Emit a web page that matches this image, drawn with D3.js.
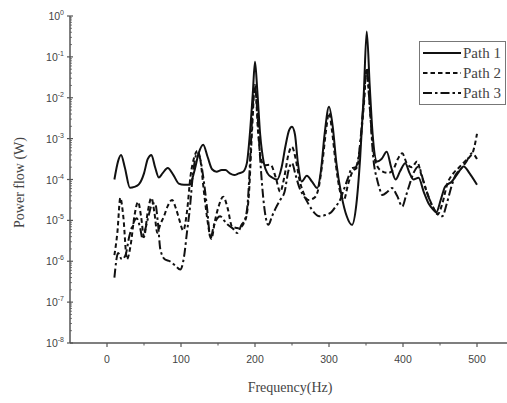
<!DOCTYPE html>
<html>
<head>
<meta charset="utf-8">
<script src="https://d3js.org/d3.v7.min.js"></script>
<style>
  body { margin: 0; background: #fff; }
  svg { display: block; }
</style>
</head>
<body>
<div id="chart-container"></div>
<script>
// - - Data (power flow read as log10(W)) - -
const path1Freq = [10, 15, 19, 24, 31, 37, 43, 50, 55, 60, 65, 70, 75, 82, 90, 97, 104, 112, 118, 124, 130, 136, 142, 148, 155, 160, 166, 172, 178, 184, 189, 193, 197, 200, 203, 207, 212, 217, 223, 230, 236, 241, 246, 250, 254, 258, 263, 270, 277, 284, 289, 294, 300, 305, 310, 317, 324, 331, 337, 342, 347, 351, 355, 359, 365, 371, 378, 384, 390, 396, 403, 409, 414, 421, 428, 435, 441, 445, 451, 457, 466, 474, 482, 490, 500];
const path1Log = [-4.0, -3.55, -3.4, -3.7, -4.2, -4.18, -4.12, -3.85, -3.5, -3.4, -3.7, -3.95, -3.85, -3.72, -3.9, -4.1, -4.13, -4.13, -3.8, -3.35, -3.15, -3.45, -3.75, -3.81, -3.77, -3.77, -3.85, -3.89, -3.85, -3.81, -3.6, -2.9, -1.9, -1.12, -1.8, -2.9, -3.6, -3.85, -3.95, -4.0, -3.7, -3.2, -2.8, -2.71, -2.9, -3.6, -4.05, -3.91, -4.05, -4.21, -3.8, -2.9, -2.22, -2.7, -3.6, -4.4, -4.9, -5.11, -4.6, -3.5, -1.9, -0.38, -1.7, -2.9, -3.56, -3.5, -3.32, -3.7, -4.0, -3.8, -3.6, -3.85, -4.0, -3.96, -4.3, -4.6, -4.74, -4.8, -4.5, -4.17, -4.05, -3.85, -3.68, -3.85, -4.13];

const path2Freq = [10, 14, 18, 22, 27, 32, 37, 42, 46, 50, 55, 60, 64, 68, 72, 77, 82, 88, 93, 98, 103, 108, 113, 118, 122, 126, 131, 135, 141, 146, 151, 157, 163, 169, 178, 187, 192, 196, 200, 204, 208, 213, 221, 228, 234, 240, 245, 250, 255, 260, 265, 272, 280, 286, 291, 296, 300, 304, 309, 315, 320, 326, 332, 338, 343, 347, 351, 355, 360, 366, 372, 380, 387, 393, 399, 405, 412, 419, 425, 432, 440, 447, 453, 460, 468, 476, 484, 490, 495, 500];
const path2Log = [-5.85, -5.3, -4.45, -4.9, -5.95, -5.6, -4.9, -4.55, -4.9, -5.4, -4.8, -4.45, -4.8, -5.3, -5.1, -4.9, -4.65, -4.5, -4.7, -5.0, -5.25, -4.8, -3.9, -3.45, -3.3, -3.5, -4.3, -4.9, -5.45, -5.0, -4.65, -4.42, -4.7, -5.15, -5.19, -4.99, -4.3, -2.8, -1.69, -2.8, -3.5, -3.65, -3.64, -3.95, -4.3, -3.9, -3.4, -3.2, -3.5, -4.0, -4.3, -4.5, -4.45, -4.2, -3.6, -2.8, -2.37, -2.8, -3.6, -4.3, -4.5, -4.1, -3.8, -3.7, -3.0, -2.2, -1.28, -2.2, -3.3, -3.7, -3.8, -3.84, -3.75, -3.5, -3.36, -3.6, -3.7, -3.56, -3.9, -4.3, -4.65, -4.85, -4.6, -4.1, -3.85, -3.7, -3.55, -3.45, -3.3, -2.88];

const path3Freq = [10, 15, 20, 25, 30, 35, 40, 45, 48, 52, 56, 61, 65, 69, 72, 78, 85, 92, 99, 104, 108, 112, 116, 122, 126, 130, 135, 140, 144, 149, 153, 158, 163, 170, 176, 182, 186, 190, 194, 197, 200, 203, 207, 212, 218, 223, 228, 234, 240, 245, 250, 255, 260, 268, 277, 287, 295, 303, 309, 315, 320, 326, 331, 336, 341, 346, 351, 355, 360, 365, 368, 372, 379, 385, 392, 399, 404, 408, 414, 421, 427, 434, 441, 447, 453, 459, 465, 471, 478, 486, 493, 498, 500];
const path3Log = [-6.4, -5.8, -5.95, -5.85, -5.4, -5.1, -4.95, -5.2, -5.45, -5.2, -4.9, -4.6, -4.58, -5.1, -5.7, -5.95, -6.0, -6.1, -6.2, -5.9, -5.3, -4.7, -3.9, -3.35, -3.5, -3.93, -4.66, -5.44, -5.15, -4.95, -4.9, -5.0, -5.1, -5.2, -5.31, -5.1, -5.0, -4.6, -3.3, -2.2, -1.76, -2.3, -3.5, -4.6, -5.11, -4.9, -4.7, -4.5, -4.3, -3.8, -3.6, -3.9, -4.2, -4.46, -4.74, -4.9, -4.87, -4.8, -4.66, -4.5, -4.25, -3.95, -3.72, -3.7, -3.3, -2.3, -1.32, -2.2, -3.5, -4.0, -4.2, -4.38, -4.3, -4.21, -4.4, -4.66, -4.4, -4.17, -3.85, -3.68, -4.0, -4.4, -4.7, -4.85, -4.9, -4.6, -4.2, -3.89, -3.75, -3.55, -3.36, -3.44, -3.5];

const seriesNames = ["Path 1", "Path 2", "Path 3"];
const xTicksMajor = [0, 100, 200, 300, 400, 500];
const xTicksMinor = [50, 150, 250, 350, 450];
const yDecades = [0, -1, -2, -3, -4, -5, -6, -7, -8];

// - - Chart Sizing - -
const W = 507, H = 403;
const plotLeft = 70, plotTop = 16, plotBottom = 343;

const x = d3.scaleLinear().domain([-50, 550]).range([plotLeft, plotLeft + 600 * 0.74]);
const y = d3.scaleLog().domain([1e-8, 1]).range([plotBottom, plotTop]);

const dashes = [null, "4.5,3", "9,3,2.5,3"];

const svg = d3.select("#chart-container")
    .append("svg")
        .attr("width", W)
        .attr("height", H);

// - - Axes - -
const axisColor = "#555";
const textColor = "#444";

// y axis
svg.append("line")
    .attr("x1", plotLeft).attr("x2", plotLeft)
    .attr("y1", y(1)).attr("y2", y(1e-8))
    .attr("stroke", axisColor).attr("stroke-width", 1.5);

yDecades.forEach(e => {
    const yy = y(Math.pow(10, e));
    svg.append("line")
        .attr("x1", plotLeft - 3).attr("x2", plotLeft + 3)
        .attr("y1", yy).attr("y2", yy)
        .attr("stroke", axisColor).attr("stroke-width", 1.2);
    if (e > -8) {
        for (let m = 2; m <= 9; m++) {
            const ym = y(m * Math.pow(10, e - 1));
            svg.append("line")
                .attr("x1", plotLeft).attr("x2", plotLeft + 2)
                .attr("y1", ym).attr("y2", ym)
                .attr("stroke", axisColor).attr("stroke-width", 0.8);
        }
    }
    const t = svg.append("text")
        .attr("x", plotLeft - 6)
        .attr("y", yy + 4)
        .attr("text-anchor", "end")
        .attr("fill", textColor)
        .attr("font-family", "Liberation Sans, Arial, sans-serif")
        .attr("font-size", 10.5);
    t.append("tspan").text("10");
    t.append("tspan")
        .attr("dy", -5)
        .attr("font-size", 7)
        .text(e);
});

// x axis
svg.append("line")
    .attr("x1", plotLeft).attr("x2", W)
    .attr("y1", plotBottom).attr("y2", plotBottom)
    .attr("stroke", axisColor).attr("stroke-width", 1.5);

xTicksMajor.forEach(v => {
    svg.append("line")
        .attr("x1", x(v)).attr("x2", x(v))
        .attr("y1", plotBottom).attr("y2", plotBottom + 4)
        .attr("stroke", axisColor).attr("stroke-width", 1.2);
    svg.append("text")
        .attr("x", x(v))
        .attr("y", plotBottom + 20)
        .attr("text-anchor", "middle")
        .attr("fill", textColor)
        .attr("font-family", "Liberation Sans, Arial, sans-serif")
        .attr("font-size", 10.5)
        .text(v);
});
xTicksMinor.forEach(v => {
    svg.append("line")
        .attr("x1", x(v)).attr("x2", x(v))
        .attr("y1", plotBottom).attr("y2", plotBottom + 2.5)
        .attr("stroke", axisColor).attr("stroke-width", 1);
});

// axis titles
svg.append("text")
    .attr("transform", `translate(24, ${(plotTop + plotBottom) / 2 + 3}) rotate(-90)`)
    .attr("text-anchor", "middle")
    .attr("fill", textColor)
    .attr("font-family", "Liberation Serif, Times New Roman, serif")
    .attr("font-size", 14)
    .text("Power flow (W)");

svg.append("text")
    .attr("x", 290)
    .attr("y", 392)
    .attr("text-anchor", "middle")
    .attr("fill", textColor)
    .attr("font-family", "Liberation Serif, Times New Roman, serif")
    .attr("font-size", 14)
    .text("Frequency(Hz)");

// - - Curves - -
const line = d3.line()
    .x(d => x(d[0]))
    .y(d => y(Math.pow(10, d[1])))
    .curve(d3.curveMonotoneX);

const series = [
    d3.zip(path1Freq, path1Log),
    d3.zip(path2Freq, path2Log),
    d3.zip(path3Freq, path3Log)
];

series.forEach((pts, i) => {
    svg.append("path")
        .datum(pts)
        .attr("d", line)
        .attr("fill", "none")
        .attr("stroke", "#111")
        .attr("stroke-width", 2)
        .attr("stroke-dasharray", dashes[i]);
});

// - - Legend - -
const legend = svg.append("g");
legend.append("rect")
    .attr("x", 419.5).attr("y", 41.5)
    .attr("width", 86).attr("height", 63)
    .attr("fill", "#fff")
    .attr("stroke", "#777").attr("stroke-width", 1);

seriesNames.forEach((name, i) => {
    const ly = 53 + i * 20;
    legend.append("line")
        .attr("x1", 423).attr("x2", 461)
        .attr("y1", ly).attr("y2", ly)
        .attr("stroke", "#111").attr("stroke-width", 2)
        .attr("stroke-dasharray", dashes[i]);
    legend.append("text")
        .attr("x", 463)
        .attr("y", ly + 5)
        .attr("fill", textColor)
        .attr("font-family", "Liberation Serif, Times New Roman, serif")
        .attr("font-size", 15)
        .text(name);
});
</script>
</body>
</html>
